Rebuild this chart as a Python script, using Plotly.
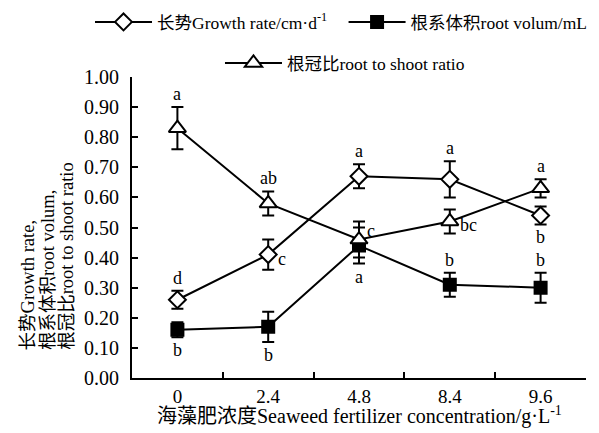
import plotly.graph_objects as go

categories = ["0", "2.4", "4.8", "8.4", "9.6"]
growth = [0.26, 0.41, 0.67, 0.66, 0.54]
growth_err = [0.03, 0.05, 0.04, 0.06, 0.03]
volume = [0.16, 0.17, 0.44, 0.31, 0.30]
volume_err = [0.025, 0.05, 0.06, 0.04, 0.05]
ratio = [0.83, 0.58, 0.46, 0.52, 0.63]
ratio_err = [0.07, 0.04, 0.06, 0.04, 0.03]
y_ticks = [0.0, 0.1, 0.2, 0.3, 0.4, 0.5, 0.6, 0.7, 0.8, 0.9, 1.0]

growth_letters = ["d", "c", "a", "a", "b"]
growth_pos = ["above", "right", "above", "above", "below"]
volume_letters = ["b", "b", "a", "b", "b"]
volume_pos = ["below", "below", "below", "above", "above"]
ratio_letters = ["a", "ab", "c", "bc", "a"]
ratio_pos = ["above", "above", "upright", "right", "above"]

y_title_lines = ["长势Growth rate,", "根系体积root volum,", "根冠比root to shoot ratio"]
x_title = "海藻肥浓度Seaweed fertilizer concentration/g·L<sup>-1</sup>"

FONT = '"Liberation Serif", "Times New Roman", "Noto Sans CJK SC", serif'

fig = go.Figure()

def add_series(name, vals, errs, symbol, size, fill, legend):
    fig.add_trace(go.Scatter(
        x=categories, y=vals, name=name, mode="lines+markers",
        line=dict(color="black", width=2),
        marker=dict(symbol=symbol, size=size, color=fill,
                    line=dict(color="black", width=2)),
        error_y=dict(type="data", array=errs, visible=True, color="black", thickness=2, width=6),
        legend=legend,
    ))

add_series("长势Growth rate/cm·d<sup>-1</sup>", growth, growth_err, "diamond", 13, "white", "legend")
add_series("根系体积root volum/mL", volume, volume_err, "square", 12, "black", "legend2")
add_series("根冠比root to shoot ratio", ratio, ratio_err, "triangle-up", 15, "white", "legend3")

annotations = []
def add_letters(vals, errs, letters, pos):
    for i, (v, e, l, p) in enumerate(zip(vals, errs, letters, pos)):
        if p == "above":
            annotations.append(dict(x=i, y=v + e, text=l, showarrow=False, yshift=13))
        elif p == "below":
            annotations.append(dict(x=i, y=v - e, text=l, showarrow=False, yshift=-13))
        elif p == "right":
            annotations.append(dict(x=i, y=v, text=l, showarrow=False, xanchor="left", xshift=8, yshift=-4))
        elif p == "upright":
            annotations.append(dict(x=i, y=v, text=l, showarrow=False, xanchor="left", xshift=6, yshift=9))

add_letters(growth, growth_err, growth_letters, growth_pos)
add_letters(volume, volume_err, volume_letters, volume_pos)
add_letters(ratio, ratio_err, ratio_letters, ratio_pos)
for a in annotations:
    a["font"] = dict(family=FONT, size=18, color="black")

for xp, line in zip([-0.2270, -0.1850, -0.1435], y_title_lines):
    annotations.append(dict(
        xref="paper", yref="paper", x=xp, y=0.0864, xanchor="center", yanchor="bottom",
        textangle=-90, text=line, showarrow=False,
        font=dict(family=FONT, size=18.5, color="black"),
    ))

annotations.append(dict(
    xref="paper", yref="paper", x=0.5, y=-0.1262, xanchor="center", yanchor="middle",
    text=x_title, showarrow=False, font=dict(family=FONT, size=20, color="black"),
))

leg_common = dict(orientation="h", xanchor="left", yanchor="middle", font=dict(family=FONT, size=17.5),
                  itemwidth=57, bgcolor="rgba(0,0,0,0)")
fig.update_layout(
    width=591, height=425,
    margin=dict(l=124, r=13, t=69, b=55, autoexpand=False),
    paper_bgcolor="white", plot_bgcolor="white",
    font=dict(family=FONT, size=18, color="black"),
    showlegend=True,
    legend=dict(x=-0.0925, y=1.1827, **leg_common),
    legend2=dict(x=0.466, y=1.1827, **leg_common),
    legend3=dict(x=0.1938, y=1.0465, **leg_common),
    annotations=annotations,
    xaxis=dict(
        type="category", range=[-0.5, 4.5], showline=True, linecolor="black", linewidth=2,
        ticks="inside", tickson="boundaries", ticklen=6, tickwidth=2, tickcolor="black",
        showgrid=False, zeroline=False, tickfont=dict(family=FONT, size=19),
    ),
    yaxis=dict(
        range=[0, 1.0], tickvals=y_ticks, tickformat=".2f", showline=True, linecolor="black",
        linewidth=2, ticks="inside", ticklen=6, tickwidth=2, tickcolor="black",
        showgrid=False, zeroline=False, tickfont=dict(family=FONT, size=20), ticklabelstandoff=7,
    ),
)

fig.write_html("out.html")
